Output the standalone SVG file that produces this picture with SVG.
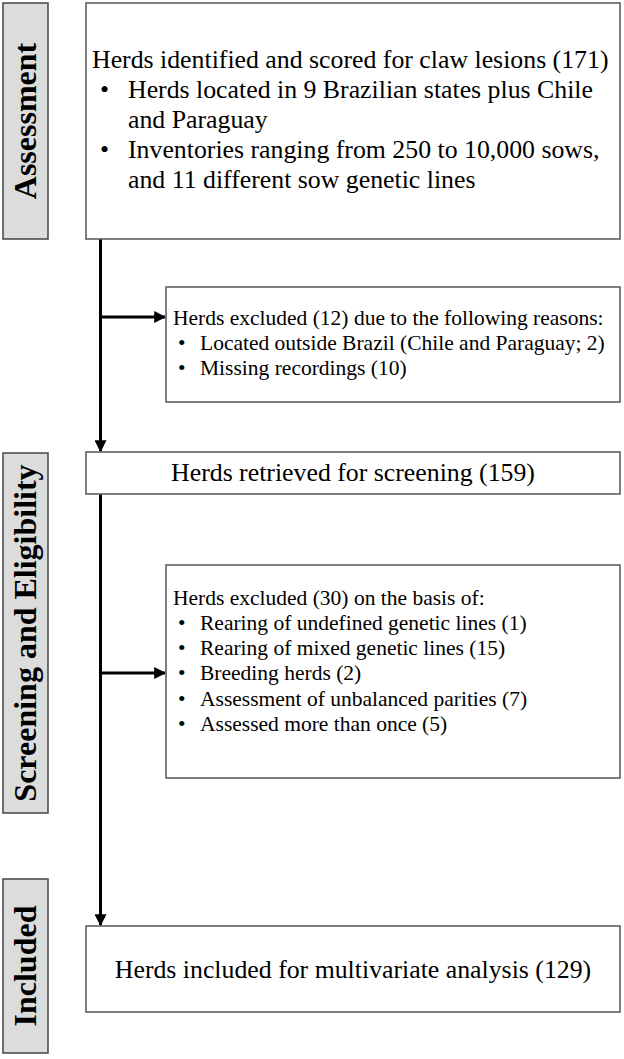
<svg xmlns="http://www.w3.org/2000/svg" width="624" height="1059" viewBox="0 0 624 1059">
<style>
.box{fill:#fff;stroke:#555;stroke-width:1.5}
.lab{fill:#dcdcdc;stroke:#444;stroke-width:1.5}
.lt{font-family:"Liberation Serif","Times New Roman",serif;font-weight:bold;font-size:32px;fill:#000;text-anchor:middle}
.t{font-family:"Liberation Serif","Times New Roman",serif;font-size:25.8px;fill:#000}
.s{font-family:"Liberation Serif","Times New Roman",serif;font-size:21.5px;fill:#000}
.c{text-anchor:middle}
.ln{stroke:#000;stroke-width:3;fill:none}
</style>
<defs>
<marker id="ah" markerWidth="4" markerHeight="4" refX="3.6" refY="2" orient="auto" markerUnits="strokeWidth">
<path d="M0,0 L4,2 L0,4 z" fill="#000"/>
</marker>
</defs>
<g id="label-assessment">
<rect class="lab" x="3" y="3" width="45" height="236"/>
<text class="lt" transform="translate(36,121) rotate(-90)">Assessment</text>
</g>
<g id="label-screening">
<rect class="lab" x="3" y="453" width="45" height="360"/>
<text class="lt" transform="translate(36,633) rotate(-90)">Screening and Eligibility</text>
</g>
<g id="label-included">
<rect class="lab" x="3" y="879" width="45" height="174"/>
<text class="lt" transform="translate(36,966) rotate(-90)">Included</text>
</g>
<g id="connectors">
<line class="ln" x1="100.5" y1="239" x2="100.5" y2="451" marker-end="url(#ah)"/>
<line class="ln" x1="100.5" y1="317" x2="165" y2="317" marker-end="url(#ah)"/>
<line class="ln" x1="100.5" y1="494" x2="100.5" y2="925" marker-end="url(#ah)"/>
<line class="ln" x1="100.5" y1="673" x2="165" y2="673" marker-end="url(#ah)"/>
</g>
<g id="node-identified">
<rect class="box" x="86" y="3" width="534" height="236"/>
<text class="t" x="92" y="68">Herds identified and scored for claw lesions (171)</text>
<text class="t" x="100" y="98">•</text>
<text class="t" x="128" y="98">Herds located in 9 Brazilian states plus Chile</text>
<text class="t" x="128" y="128">and Paraguay</text>
<text class="t" x="100" y="158">•</text>
<text class="t" x="128" y="158">Inventories ranging from 250 to 10,000 sows,</text>
<text class="t" x="128" y="188">and 11 different sow genetic lines</text>
</g>
<g id="node-excluded1">
<rect class="box" x="166" y="287" width="454" height="115"/>
<text class="s" x="173" y="325">Herds excluded (12) due to the following reasons:</text>
<text class="s" x="178" y="350">•</text>
<text class="s" x="200" y="350">Located outside Brazil (Chile and Paraguay; 2)</text>
<text class="s" x="178" y="375">•</text>
<text class="s" x="200" y="375">Missing recordings (10)</text>
</g>
<g id="node-retrieved">
<rect class="box" x="86" y="452" width="534" height="42"/>
<text class="t c" x="353" y="481">Herds retrieved for screening (159)</text>
</g>
<g id="node-excluded2">
<rect class="box" x="166" y="565" width="454" height="213"/>
<text class="s" x="173" y="605">Herds excluded (30) on the basis of:</text>
<text class="s" x="178" y="630">•</text>
<text class="s" x="200" y="630">Rearing of undefined genetic lines (1)</text>
<text class="s" x="178" y="655">•</text>
<text class="s" x="200" y="655">Rearing of mixed genetic lines (15)</text>
<text class="s" x="178" y="680">•</text>
<text class="s" x="200" y="680">Breeding herds (2)</text>
<text class="s" x="178" y="706">•</text>
<text class="s" x="200" y="706">Assessment of unbalanced parities (7)</text>
<text class="s" x="178" y="731">•</text>
<text class="s" x="200" y="731">Assessed more than once (5)</text>
</g>
<g id="node-included">
<rect class="box" x="86" y="926" width="534" height="86"/>
<text class="t c" x="353" y="978">Herds included for multivariate analysis (129)</text>
</g>
</svg>
